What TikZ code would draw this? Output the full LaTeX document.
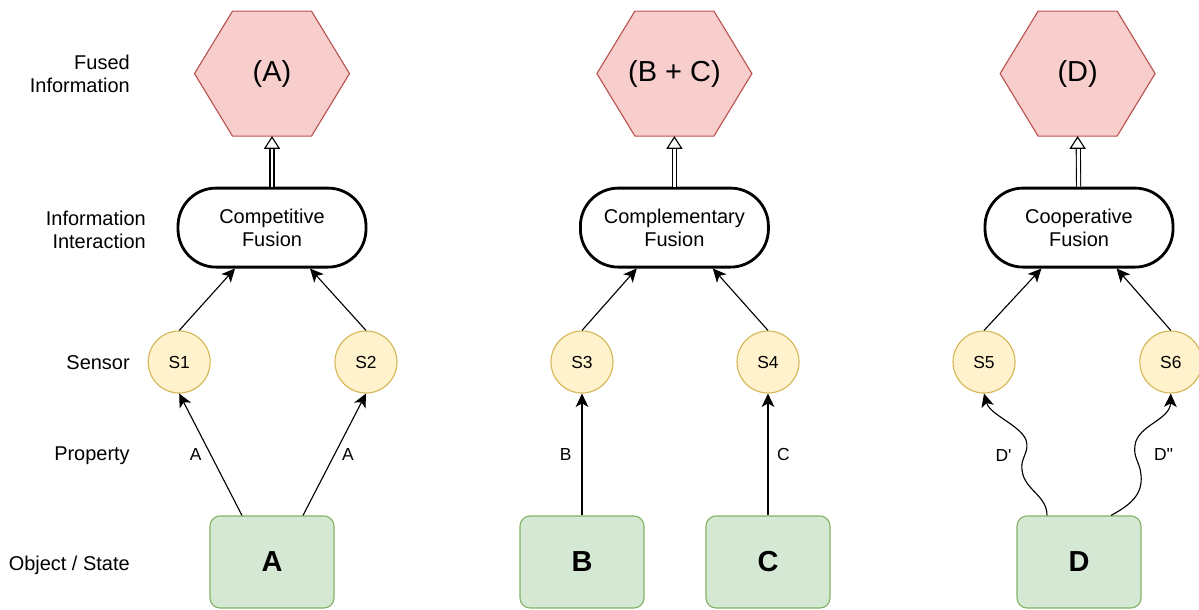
\documentclass[tikz,border=0pt]{standalone}
\usepackage{fontspec}
\setmainfont{Liberation Sans}
\usepackage{tikz}
\usetikzlibrary{arrows.meta,backgrounds}
\definecolor{hexfill}{HTML}{F8CECC}
\definecolor{hexline}{HTML}{B85450}
\definecolor{sensfill}{HTML}{FFF2CC}
\definecolor{sensline}{HTML}{D6B656}
\definecolor{objfill}{HTML}{D5E8D4}
\definecolor{objline}{HTML}{82B366}
\tikzset{
  hexinfo/.style={ rectangle, minimum width=3.875cm, minimum height=3.125cm, inner sep=0pt, outer sep=0pt, font=\fontsize{20.6}{24}\selectfont }
}
\tikzset{
  hexedge/.style={ draw=hexline, fill=hexfill, line width=0.8pt, line join=miter }
}
\tikzset{
  fusbox/.style={ draw, line width=2pt, rounded corners=0.95cm, minimum width=4.7cm, minimum height=1.975cm, align=center, font=\fontsize{14.2}{16.4}\selectfont }
}
\tikzset{
  sens/.style={ draw=sensline, fill=sensfill, circle, minimum size=1.55cm, line width=0.8pt, font=\fontsize{12.4}{14}\selectfont }
}
\tikzset{
  objbox/.style={ draw=objline, fill=objfill, rounded corners=0.25cm, minimum width=3.1cm, minimum height=2.3cm, line width=0.8pt, font=\fontsize{20.6}{24}\selectfont\bfseries }
}
\tikzset{
  layer/.style={ anchor=east, align=right, inner sep=0pt, font=\fontsize{14.2}{16.4}\selectfont }
}
\tikzset{
  plbl/.style={ inner sep=1pt, font=\fontsize{12.4}{14}\selectfont }
}
\tikzset{
  fuse/.style={ double, double distance=2.1pt, line width=0.8pt, shorten >=8pt }
}
\tikzset{
  fusetip/.style={ line width=0.8pt, -{Triangle[length=9pt, width=11.4pt, fill=white]} }
}

\begin{document}
\begin{tikzpicture}[y=1cm, x=1cm, >={Stealth[length=9.5pt, width=9pt, inset=2.5pt]}]
      \useasboundingbox (0, 0) rectangle (29.975, -15.25);
      \node[layer] (lfused) at (3.25, -1.85) {Fused\\Information};
      \node[layer] (linter) at (3.65, -5.74) {Information\\Interaction};
      \node[layer] (lsens) at (3.25, -9.075) {Sensor};
      \node[layer] (lprop) at (3.25, -11.4) {Property};
      \node[layer] (lobj) at (3.25, -14.125) {Object / State};

      \node[hexinfo] (hex1) at (6.8, -1.84) {(A)};
      \node[hexinfo] (hex2) at (16.86, -1.84) {(B + C)};
      \node[hexinfo] (hex3) at (26.94, -1.84) {(D)};
      % hexagon outlines behind the texts
      \begin{scope}[on background layer]
        \foreach \h in {hex1, hex2, hex3}
          \draw[hexedge] (\h.west) -- ([xshift=0.95cm]\h.north west) -- ([xshift=-0.95cm]\h.north east)
            -- (\h.east) -- ([xshift=-0.95cm]\h.south east) -- ([xshift=0.95cm]\h.south west) -- cycle;
      \end{scope}

      \node[fusbox] (fus1) at (6.8, -5.69) {Competitive\\Fusion};
      \node[fusbox] (fus2) at (16.86, -5.69) {Complementary\\Fusion};
      \node[fusbox] (fus3) at (26.975, -5.69) {Cooperative\\Fusion};

      \node[sens] (s1) at (4.48, -9.05) {S1};
      \node[sens] (s2) at (9.15, -9.05) {S2};
      \node[sens] (s3) at (14.55, -9.05) {S3};
      \node[sens] (s4) at (19.2, -9.05) {S4};
      \node[sens] (s5) at (24.6, -9.05) {S5};
      \node[sens] (s6) at (29.27, -9.05) {S6};

      \node[objbox] (objA) at (6.8, -14.05) {A};
      \node[objbox] (objB) at (14.55, -14.05) {B};
      \node[objbox] (objC) at (19.2, -14.05) {C};
      \node[objbox] (objD) at (26.975, -14.05) {D};

      \draw[fuse] (fus1) -- (hex1);
      \draw[fuse] (fus2) -- (hex2);
      \draw[fuse] (fus3) -- (hex3);
      \draw[fusetip] ([yshift=-9pt]hex1.south) -- (hex1.south);
      \draw[fusetip] ([yshift=-9pt]hex2.south) -- (hex2.south);
      \draw[fusetip] ([yshift=-9pt]hex3.south) -- (hex3.south);

      \draw[->, line width=0.8pt] (s1.north) -- ([xshift=-0.925cm]fus1.south);
      \draw[->, line width=0.8pt] (s2.north) -- ([xshift=0.95cm]fus1.south);
      \draw[->, line width=0.8pt] (s3.north) -- ([xshift=-0.94cm]fus2.south);
      \draw[->, line width=0.8pt] (s4.north) -- ([xshift=0.96cm]fus2.south);
      \draw[->, line width=0.8pt] (s5.north) -- ([xshift=-0.94cm]fus3.south);
      \draw[->, line width=0.8pt] (s6.north) -- ([xshift=0.94cm]fus3.south);

      \draw[->, line width=0.8pt] ([xshift=-0.75cm]objA.north) -- node[plbl, midway, left=5pt] {A} (s1.south);
      \draw[->, line width=0.8pt] ([xshift=0.775cm]objA.north) -- node[plbl, midway, right=4pt] {A} (s2.south);
      \draw[->, line width=0.8pt] (objB.north) -- node[plbl, midway, left=6pt] {B} (s3.south);
      \draw[->, line width=0.8pt] (objC.north) -- node[plbl, midway, right=5pt] {C} (s4.south);

      % wavy property links of D
      \draw[->, line width=0.8pt] ([xshift=-0.8cm]objD.north)
        .. controls (26.175, -12.375) and (25.6, -12.25) .. (25.55, -11.75)
        .. controls (25.5, -11.45) and (25.75, -11.3) .. node[plbl, pos=0.5, left=8pt] {D\textquotesingle} (25.65, -11.0)
        .. controls (25.5, -10.625) and (24.75, -10.375) .. (s5.south);
      \draw[->, line width=0.8pt] ([xshift=0.8cm]objD.north)
        .. controls (28.25, -12.625) and (28.575, -12.375) .. (28.525, -11.875)
        .. controls (28.5, -11.55) and (28.325, -11.45) .. node[plbl, pos=0.7, right=12pt] {D\textquotesingle\textquotesingle} (28.375, -11.125)
        .. controls (28.45, -10.625) and (29.25, -10.5) .. (s6.south);
    \end{tikzpicture}
\end{document}
